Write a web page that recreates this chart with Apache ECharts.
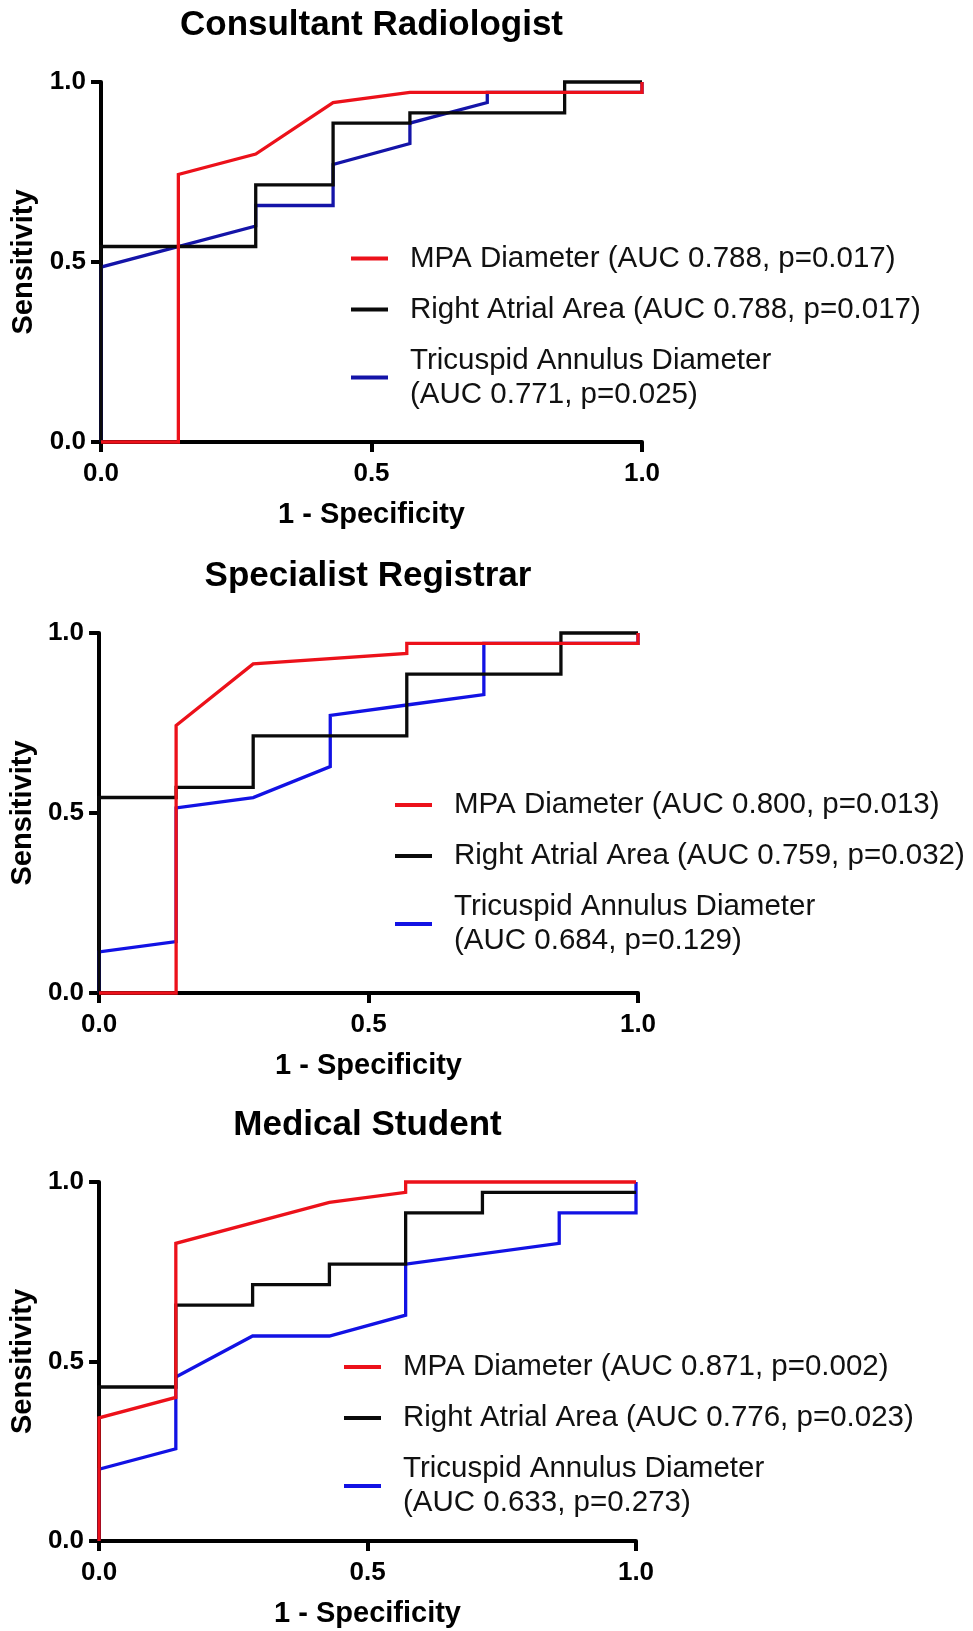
<!DOCTYPE html>
<html>
<head>
<meta charset="utf-8">
<script src="https://cdn.jsdelivr.net/npm/echarts@6/dist/echarts.min.js"></script>
<style>
html,body{margin:0;padding:0;background:#fff;}
#chart{width:973px;height:1631px;}
</style>
</head>
<body>
<div id="chart"></div>
<script>
// ---------- data ----------
const plotTitles = ['Consultant Radiologist', 'Specialist Registrar', 'Medical Student'];
const xAxisName = '1 - Specificity';
const yAxisName = 'Sensitivity';
const tickLabels = ['0.0', '0.5', '1.0'];

const consultantNames = [
  'MPA Diameter (AUC 0.788, p=0.017)',
  'Right Atrial Area (AUC 0.788, p=0.017)',
  'Tricuspid Annulus Diameter\n(AUC 0.771, p=0.025)'
];
const registrarNames = [
  'MPA Diameter (AUC 0.800, p=0.013)',
  'Right Atrial Area (AUC 0.759, p=0.032)',
  'Tricuspid Annulus Diameter\n(AUC 0.684, p=0.129)'
];
const studentNames = [
  'MPA Diameter (AUC 0.871, p=0.002)',
  'Right Atrial Area (AUC 0.776, p=0.023)',
  'Tricuspid Annulus Diameter\n(AUC 0.633, p=0.273)'
];

// [1 - specificity, sensitivity]
const consultantMPA = [[0,0],[0.143,0],[0.143,0.743],[0.286,0.8],[0.429,0.943],[0.571,0.971],[1,0.971],[1,1]];
const consultantRA  = [[0,0],[0,0.543],[0.286,0.543],[0.286,0.714],[0.429,0.714],[0.429,0.886],[0.571,0.886],[0.571,0.914],[0.857,0.914],[0.857,1],[1,1]];
const consultantTAD = [[0,0],[0,0.486],[0.286,0.6],[0.286,0.657],[0.429,0.657],[0.429,0.771],[0.571,0.829],[0.571,0.886],[0.714,0.943],[0.714,0.971],[1,0.971],[1,1]];

const registrarMPA = [[0,0],[0.143,0],[0.143,0.743],[0.286,0.914],[0.571,0.943],[0.571,0.971],[1,0.971],[1,1]];
const registrarRA  = [[0,0],[0,0.543],[0.143,0.543],[0.143,0.571],[0.286,0.571],[0.286,0.714],[0.571,0.714],[0.571,0.886],[0.857,0.886],[0.857,1],[1,1]];
const registrarTAD = [[0,0],[0,0.114],[0.143,0.143],[0.143,0.514],[0.286,0.543],[0.429,0.629],[0.429,0.771],[0.571,0.8],[0.714,0.829],[0.714,0.971],[1,0.971],[1,1]];

const studentMPA = [[0,0],[0,0.343],[0.143,0.4],[0.143,0.829],[0.429,0.943],[0.571,0.971],[0.571,1],[1,1]];
const studentRA  = [[0,0],[0,0.429],[0.143,0.429],[0.143,0.657],[0.286,0.657],[0.286,0.714],[0.429,0.714],[0.429,0.771],[0.571,0.771],[0.571,0.914],[0.714,0.914],[0.714,0.971],[1,0.971]];
const studentTAD = [[0,0],[0,0.2],[0.143,0.257],[0.143,0.457],[0.286,0.571],[0.429,0.571],[0.571,0.629],[0.571,0.771],[0.857,0.829],[0.857,0.914],[1,0.914],[1,1]];

// ---------- layout / style ----------
const FONT = '"Liberation Sans", Arial, Helvetica, sans-serif';
const RED = '#ec111a', BLACK = '#0a0a0a';
const BLUES = ['#1414a8', '#1212e4', '#1212e4'];

const panels = [
  { names: consultantNames, data: [consultantMPA, consultantRA, consultantTAD],
    grid: {left: 101, top: 82, width: 541, height: 360}, title: [371.5, 25], legend: [351, 241.5] },
  { names: registrarNames, data: [registrarMPA, registrarRA, registrarTAD],
    grid: {left: 98, top: 633, width: 540, height: 360}, title: [368, 576], legend: [395, 788] },
  { names: studentNames, data: [studentMPA, studentRA, studentTAD],
    grid: {left: 96, top: 1182, width: 540, height: 359}, title: [367.5, 1125], legend: [344, 1350] }
];

const grids = [], xAxes = [], yAxes = [], series = [], legends = [], graphics = [];

function axisCommon(name, gap, margin) {
  return {
    type: 'value', min: 0, max: 1, interval: 0.5,
    axisLine: { show: true, onZero: false, lineStyle: { color: '#000', width: 4 } },
    axisTick: { show: true, inside: false, length: 10, lineStyle: { color: '#000', width: 4 } },
    splitLine: { show: false },
    axisLabel: {
      formatter: v => tickLabels[Math.round(v * 2)],
      fontFamily: FONT, fontSize: 26, fontWeight: 'bold', color: '#000', margin: margin
    },
    name: name, nameLocation: 'middle', nameGap: gap,
    nameTextStyle: { fontFamily: FONT, fontSize: 29, fontWeight: 'bold', color: '#000' }
  };
}

panels.forEach((p, i) => {
  grids.push(Object.assign({ containLabel: false }, p.grid));
  xAxes.push(Object.assign({ gridIndex: i }, axisCommon(xAxisName, 58.5, 19)));
  yAxes.push(Object.assign({ gridIndex: i }, axisCommon(yAxisName, 60.5, 15)));
  const colors = [RED, BLACK, BLUES[i]];
  // draw order: blue, black, red (red on top)
  [2, 1, 0].forEach(k => {
    series.push({
      name: p.names[k], type: 'line', xAxisIndex: i, yAxisIndex: i,
      data: p.data[k], showSymbol: false, symbol: 'none', clip: false,
      color: colors[k], lineStyle: { color: colors[k], width: 3.3, join: 'miter' },
      z: 3 + (2 - k), animation: false
    });
  });
  legends.push({
    data: p.names, orient: 'vertical', left: p.legend[0], top: p.legend[1],
    padding: 0, itemGap: 17, itemWidth: 37, itemHeight: 4, icon: 'rect',
    selectedMode: false,
    textStyle: { fontFamily: FONT, fontSize: 29.5, color: '#111', lineHeight: 34, padding: [0, 0, 0, 17] }
  });
  graphics.push({
    type: 'text', x: p.title[0], y: p.title[1],
    style: { text: plotTitles[i], fontFamily: FONT, fontSize: 35, fontWeight: 'bold',
             fill: '#000', align: 'center', verticalAlign: 'middle' }
  });
});

const chart = echarts.init(document.getElementById('chart'), null, { renderer: 'canvas' });
chart.setOption({
  animation: false,
  backgroundColor: '#fff',
  grid: grids, xAxis: xAxes, yAxis: yAxes,
  legend: legends, series: series, graphic: graphics
});
</script>
</body>
</html>
